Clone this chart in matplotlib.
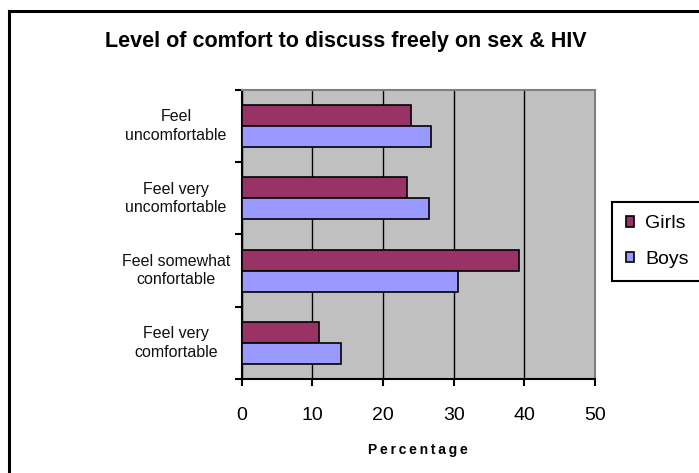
import numpy as np
import matplotlib
matplotlib.use("Agg")
import matplotlib.pyplot as plt
from matplotlib import transforms
from matplotlib.patches import Rectangle

plt.rcParams['font.family'] = ['Liberation Sans', 'DejaVu Sans']

# bottom to top, as drawn on the category axis
categories = ["Feel very\ncomfortable", "Feel somewhat\nconfortable",
              "Feel very\nuncomfortable", "Feel\nuncomfortable"]
girls = [10.9, 39.2, 23.4, 23.9]
boys = [14.0, 30.6, 26.5, 26.8]
x_ticks = [0, 10, 20, 30, 40, 50]

W, H = 699, 473
fig = plt.figure(figsize=(W / 100, H / 100), dpi=100)

# chart area frame (runs off the right and bottom edges)
fig.patches.append(Rectangle((9 / W, -0.2), 2, (H - 11) / H + 0.2,
                             transform=fig.transFigure, fill=False,
                             edgecolor='black', lw=2.2, zorder=0))

left, right, top, bottom = 241.7, 595, 90, 379
ax = fig.add_axes([left / W, (H - bottom) / H, (right - left) / W, (bottom - top) / H])
ax.set_facecolor('#C0C0C0')

y = np.arange(len(categories))
h = 0.29
ax.barh(y + h / 2, girls, height=h, color='#993366', edgecolor='black', lw=1.2,
        label='Girls', zorder=3)
ax.barh(y - h / 2, boys, height=h, color='#9999FF', edgecolor='black', lw=1.2,
        label='Boys', zorder=3)

ax.set_xlim(0, 50)
ax.set_ylim(-0.5, len(categories) - 0.5)
ax.set_xticks(x_ticks)
ax.set_xticklabels([str(v) for v in x_ticks], fontsize=14)
ax.set_yticks(np.arange(len(categories) + 1) - 0.5)
ax.set_yticklabels([])
ax.tick_params(axis='both', direction='out', length=5, width=1.5, color='black')
ax.tick_params(axis='x', pad=15)
ax.xaxis.grid(True, color='black', lw=1, zorder=1)
ax.set_axisbelow(True)

for side in ('left', 'bottom'):
    ax.spines[side].set_color('black')
    ax.spines[side].set_linewidth(1.5)
for side in ('top', 'right'):
    ax.spines[side].set_color('#808080')
    ax.spines[side].set_linewidth(1.5)

# category labels, centred in a column left of the axis
tr = transforms.blended_transform_factory(fig.transFigure, ax.transData)
for yi, lab in zip(y, categories):
    ax.text(176 / W, yi, lab, transform=tr, ha='center', va='center',
            fontsize=11.5, linespacing=1.3, color='#111111')

fig.text(345.5 / W, 1 - 41 / H, "Level of comfort to discuss freely on sex & HIV",
         ha='center', va='center', fontsize=15.5, fontweight='bold')

ax.set_xlabel("\u2009".join("Percentage"), fontsize=10, fontweight='bold', labelpad=14)

leg = fig.legend(handles=ax.patches[:1] + ax.patches[len(categories):len(categories) + 1],
                 labels=['Girls', 'Boys'], loc='center left',
                 bbox_to_anchor=(612 / W, 1 - 241.5 / H), fontsize=14,
                 handlelength=0.45, handleheight=0.45, handletextpad=0.55,
                 labelspacing=0.95, borderpad=0.7, fancybox=False, framealpha=1,
                 edgecolor='black', borderaxespad=0)
leg.get_frame().set_linewidth(1.5)

fig.savefig("out.png", dpi=100)
